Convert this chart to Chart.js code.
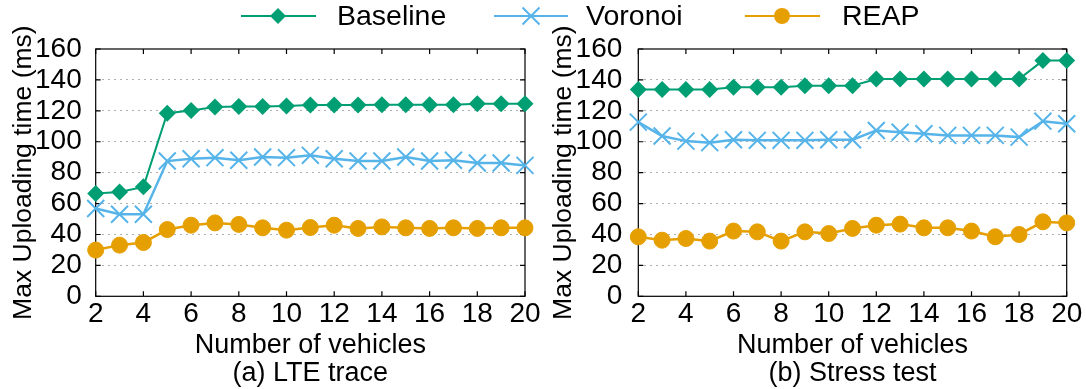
<!DOCTYPE html>
<html>
<head>
<meta charset="utf-8">
<script src="https://cdn.jsdelivr.net/npm/chart.js@4/dist/chart.umd.min.js"></script>
<style>
  html, body { margin: 0; padding: 0; background: #fff; }
  #wrap { position: relative; width: 1086px; height: 389px; overflow: hidden; font-family: "Liberation Sans", Arial, sans-serif; }
  canvas { position: absolute; top: 0; }
  #lteChart { left: 0; }
  #stressChart { left: 543px; }
  .lg-sample { position: absolute; top: 0; }
  .lg-text { position: absolute; top: 0; font-size: 28.5px; line-height: 30px; color: #000; white-space: nowrap; }
</style>
</head>
<body>
<div id="wrap">
  <canvas id="lteChart" width="543" height="389"></canvas>
  <canvas id="stressChart" width="543" height="389"></canvas>

  <!-- legend shared by both charts -->
  <svg class="lg-sample" style="left:241px" width="76" height="32">
    <line x1="0" y1="16" x2="75" y2="16" stroke="#009E73" stroke-width="2"/>
    <polygon points="37,8 45,16 37,24 29,16" fill="#009E73"/>
  </svg>
  <div class="lg-text" style="left:337px">Baseline</div>
  <svg class="lg-sample" style="left:494px" width="76" height="32">
    <line x1="0" y1="16" x2="74" y2="16" stroke="#56B4E9" stroke-width="2"/>
    <path d="M28.5,7.5 L45.5,24.5 M45.5,7.5 L28.5,24.5" stroke="#56B4E9" stroke-width="2"/>
  </svg>
  <div class="lg-text" style="left:586px">Voronoi</div>
  <svg class="lg-sample" style="left:745px" width="76" height="32">
    <line x1="0" y1="16" x2="75" y2="16" stroke="#E69F00" stroke-width="2"/>
    <circle cx="37" cy="16" r="8" fill="#E69F00"/>
  </svg>
  <div class="lg-text" style="left:842px">REAP</div>
</div>

<script>
// x values: number of vehicles
const vehicles = [2, 3, 4, 5, 6, 7, 8, 9, 10, 11, 12, 13, 14, 15, 16, 17, 18, 19, 20];

// (a) LTE trace
const lteBaseline = [66.5, 67.5, 70.8, 118.5, 120.2, 122.4, 122.8, 122.8, 123.2, 123.7, 123.7, 123.7, 124, 124, 124, 124, 124.5, 124.5, 124.5];
const lteVoronoi = [56.8, 53.1, 53.1, 87.5, 89, 89.7, 88, 90.1, 89.7, 91.2, 89, 87.5, 87.5, 90.1, 87.5, 88, 86.2, 86.2, 84.7];
const lteReap = [29.9, 33.1, 34.8, 43.2, 46, 47.5, 46.5, 44.3, 42.8, 44.5, 46, 43.9, 44.9, 44.3, 43.9, 44.3, 43.9, 44.3, 44.3];

// (b) Stress test
const stressBaseline = [133.8, 133.8, 133.8, 133.8, 135.3, 135.3, 135.3, 136.3, 136.3, 136.3, 140.6, 140.6, 140.6, 140.6, 140.6, 140.6, 140.6, 152.5, 152.5];
const stressVoronoi = [112.7, 103.7, 100.4, 99.4, 101.3, 100.9, 100.9, 100.9, 101.3, 101.3, 107.3, 106.2, 105.2, 104.1, 104.1, 104.1, 103, 113.3, 111.6];
const stressReap = [38.5, 36.3, 37.4, 35.7, 42.2, 41.7, 35.7, 41.7, 40.6, 43.9, 46, 46.7, 44.3, 44.3, 42.2, 38.5, 40, 48.2, 47.5];

const seriesNames = ['Baseline', 'Voronoi', 'REAP'];
const yTicks = [0, 20, 40, 60, 80, 100, 120, 140, 160];

const colors = {
    baseline: '#009E73',
    voronoi: '#56B4E9',
    reap: '#E69F00'
};

const fontFamily = '"Liberation Sans", Arial, sans-serif';

// gnuplot style frame with inward tick marks
const frameTicks = {
    id: 'frameTicks',
    beforeDatasetsDraw(chart) {
        const { ctx, chartArea: a, scales: { x, y } } = chart;
        ctx.save();
        ctx.strokeStyle = '#000';
        ctx.lineWidth = 1.2;
        ctx.strokeRect(a.left, a.top, a.right - a.left, a.bottom - a.top);
        ctx.beginPath();
        x.ticks.forEach(t => {
            const px = x.getPixelForValue(t.value);
            ctx.moveTo(px, a.bottom); ctx.lineTo(px, a.bottom - 5);
            ctx.moveTo(px, a.top); ctx.lineTo(px, a.top + 5);
        });
        y.ticks.forEach(t => {
            const py = y.getPixelForValue(t.value);
            ctx.moveTo(a.left, py); ctx.lineTo(a.left + 5, py);
            ctx.moveTo(a.right, py); ctx.lineTo(a.right - 5, py);
        });
        ctx.stroke();
        ctx.restore();
    }
};

function toPoints(values) {
    return values.map((v, i) => ({ x: vehicles[i], y: v }));
}

function makeChart(id, data, caption, geo) {
    const ctx = document.getElementById(id).getContext('2d');
    return new Chart(ctx, {
        type: 'line',
        data: {
            datasets: [{
                label: seriesNames[0],
                data: toPoints(data[0]),
                borderColor: colors.baseline,
                backgroundColor: colors.baseline,
                borderWidth: 2,
                pointStyle: 'rectRot',
                pointRadius: 8.5,
                pointBorderWidth: 0,
                order: 3,
                clip: false
            }, {
                label: seriesNames[1],
                data: toPoints(data[1]),
                borderColor: colors.voronoi,
                backgroundColor: colors.voronoi,
                borderWidth: 2.5,
                pointStyle: 'crossRot',
                pointRadius: 12,
                pointBorderWidth: 2,
                order: 2,
                clip: false
            }, {
                label: seriesNames[2],
                data: toPoints(data[2]),
                borderColor: colors.reap,
                backgroundColor: colors.reap,
                borderWidth: 2.5,
                pointStyle: 'circle',
                pointRadius: 8,
                pointBorderWidth: 1,
                order: 1,
                clip: false
            }]
        },
        options: {
            responsive: false,
            animation: false,
            layout: { padding: { top: 49, right: geo.padRight, bottom: 0, left: 0 } },
            plugins: {
                legend: { display: false },
                tooltip: { enabled: false }
            },
            scales: {
                x: {
                    type: 'linear',
                    min: 2,
                    max: 20,
                    grid: { display: false, drawTicks: false },
                    border: { display: false },
                    ticks: {
                        stepSize: 2,
                        autoSkip: false,
                        maxRotation: 0,
                        padding: 1,
                        color: '#000',
                        font: { family: fontFamily, size: 28 }
                    },
                    title: {
                        display: true,
                        text: ['Number of vehicles', caption],
                        color: '#000',
                        font: { family: fontFamily, size: 27, lineHeight: 1.03 },
                        padding: { top: 0, bottom: 2 }
                    },
                    afterFit(scale) { scale.height = 92.7; }
                },
                y: {
                    min: 0,
                    max: 160,
                    afterBuildTicks(scale) { scale.ticks = yTicks.map(v => ({ value: v })); },
                    grid: {
                        drawTicks: false,
                        lineWidth: 1,
                        color: c => (c.tick.value === 0 || c.tick.value === 160) ? 'rgba(0,0,0,0)' : '#b0b0b0'
                    },
                    border: { display: false, dash: [2, 4] },
                    ticks: {
                        autoSkip: false,
                        padding: geo.tickPad,
                        color: '#000',
                        font: { family: fontFamily, size: 28 }
                    },
                    title: {
                        display: true,
                        text: 'Max Uploading time (ms)',
                        color: '#000',
                        font: { family: fontFamily, size: 26.5, lineHeight: 1.03 },
                        padding: { top: geo.titlePad, bottom: 0 }
                    },
                    afterFit(scale) { scale.width = geo.yWidth; }
                }
            }
        },
        plugins: [frameTicks]
    });
}

let lteChart, stressChart;

lteChart = makeChart('lteChart', [lteBaseline, lteVoronoi, lteReap], '(a) LTE trace',
    { yWidth: 95.7, padRight: 18, tickPad: 14, titlePad: 10 });
stressChart = makeChart('stressChart', [stressBaseline, stressVoronoi, stressReap], '(b) Stress test',
    { yWidth: 95.3, padRight: 19.3, tickPad: 16, titlePad: 7 });
</script>
</body>
</html>
